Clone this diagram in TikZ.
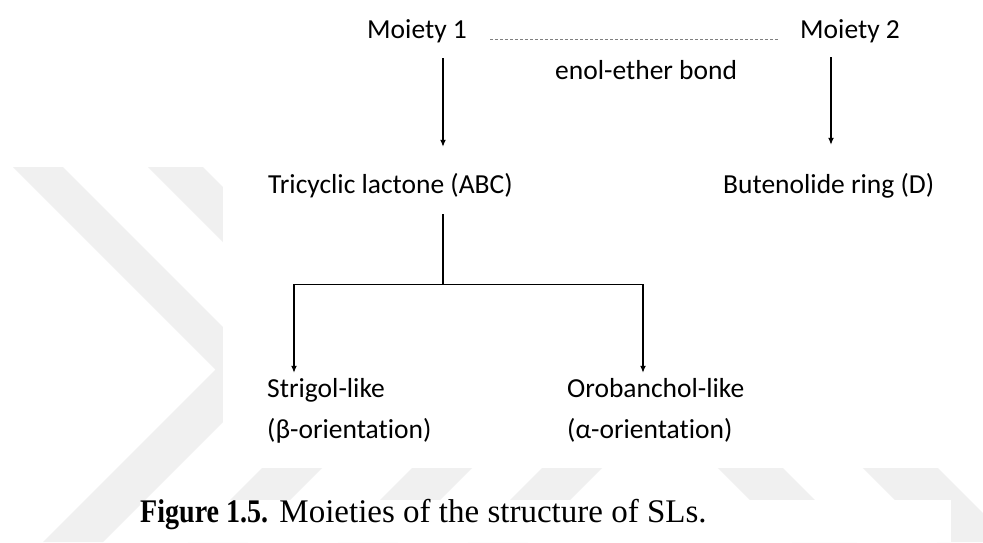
\documentclass[tikz,border=0pt]{standalone}
\usepackage{fontspec}
\setmainfont{Carlito}[Ligatures=NoCommon]
\newfontfamily\capfont{Liberation Serif}
\usetikzlibrary{arrows.meta}

\begin{document}
\begin{tikzpicture}[x=1pt,y=-1pt,
  lbl/.style={font=\fontsize{27.5pt}{33pt}\selectfont, inner sep=0pt, anchor=base west, text height=18pt, text depth=6pt},
  arr/.style={-{Latex[length=7pt,width=6pt]}, line width=1.3pt},
  link/.style={line width=1.3pt},
  bondline/.style={dash pattern=on 3pt off 2pt, gray, line width=1pt},
  wm/.style={fill=gray!12}]
\useasboundingbox (0,0) rectangle (983,542);
% faint watermark behind the figure
\begin{scope}
\clip (0,0) rectangle (983,542);
\fill[white] (0,0) rectangle (983,542);
\fill[wm] (13,167) -- (63,167) -- (270.5,374.5) -- (103,542) -- (43,542) -- (215.5,369.5) -- cycle;
\fill[wm] (148,167) -- (203,167) -- (413,377) -- (248,542) -- (188,542) -- (355.5,374.5) -- cycle;
\fill[wm] (500,380) -- (560,380) -- (398,542) -- (338,542) -- cycle;
\fill[wm] (630,380) -- (690,380) -- (528,542) -- (468,542) -- cycle;
\fill[wm] (630,380) -- (695,380) -- (857,542) -- (792,542) -- cycle;
\fill[wm] (775,380) -- (850,380) -- (1012,542) -- (937,542) -- cycle;
\fill[white] (223,0) rectangle (983,468);
\fill[white] (140,500) rectangle (951,542);
\end{scope}

% labels
\node[lbl] (m1) at (367,38) {Moiety 1};
\node[lbl] (m2) at (800,38) {Moiety 2};
\node[lbl] (bond) at (555,79) {enol-ether bond};
\node[lbl] (tl) at (268,193) {Tricyclic lactone (ABC)};
\node[lbl] (bt) at (723,193) {Butenolide ring (D)};
\node[lbl] (sg) at (267,397) {Strigol-like};
\node[lbl] (sgb) at (267,438) {(β-orientation)};
\node[lbl] (ob) at (567,397) {Orobanchol-like};
\node[lbl] (oba) at (567,438) {(α-orientation)};

% connectors
\draw[bondline] ([xshift=23pt,yshift=-1pt]m1.base east) -- ([xshift=-22pt,yshift=-1pt]m2.base west);
\draw[arr] ([xshift=76pt,yshift=-14pt]m1.south west) -- ([xshift=175pt,yshift=28pt]tl.north west);
\draw[arr] ([xshift=31pt,yshift=-13pt]m2.south west) -- ([xshift=108pt,yshift=30pt]bt.north west);
\coordinate (fork) at ([xshift=175pt,yshift=-85pt]tl.south west);
\draw[link] ([xshift=175pt,yshift=-15pt]tl.south west) -- (fork);
\draw[arr] (fork) -| ([xshift=27pt,yshift=6pt]sg.north west);
\draw[arr] (fork) -| ([xshift=76pt,yshift=6pt]ob.north west);

% caption
\node[font=\capfont\fontsize{33pt}{38pt}\selectfont, inner sep=0pt, anchor=base west] (cap) at (140,522)
  {\scalebox{0.85}[1]{\textbf{Figure 1.5.}}\hspace{3pt} Moieties of the structure of SLs.};
\end{tikzpicture}
\end{document}
